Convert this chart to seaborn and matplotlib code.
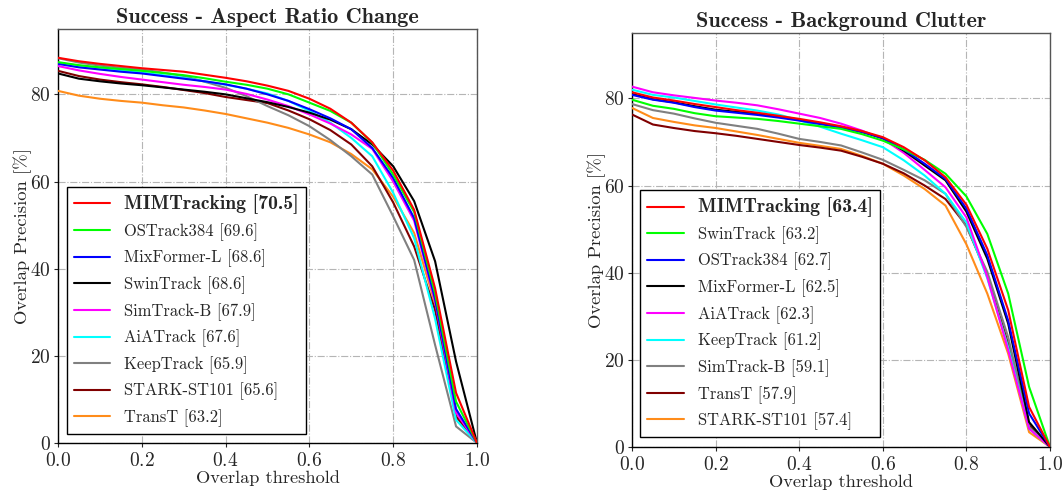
import numpy as np
import pandas as pd
import matplotlib
matplotlib.use("Agg")
import matplotlib.pyplot as plt
import seaborn as sns

# Overlap thresholds (21 evaluation points)
thresholds = [round(0.05 * i, 2) for i in range(21)]

# ---- Aspect Ratio Change ----
arc_names = ["MIMTracking [70.5]", "OSTrack384 [69.6]", "MixFormer-L [68.6]", "SwinTrack [68.6]",
             "SimTrack-B [67.9]", "AiATrack [67.6]", "KeepTrack [65.9]", "STARK-ST101 [65.6]",
             "TransT [63.2]"]
arc_colors = ["#ff0000", "#00ff00", "#0000ff", "#000000", "#ff00ff", "#00ffff", "#808080",
              "#800000", "#ff8c1a"]
arc_mimtracking = [88.4, 87.6, 87.0, 86.5, 86.0, 85.6, 85.2, 84.5, 83.8, 83.0, 82.0, 80.8, 79.0,
                   76.7, 73.5, 69.0, 62.5, 53.5, 35.5, 11.5, 0.0]
arc_ostrack384 = [87.4, 86.7, 86.2, 85.8, 85.4, 84.9, 84.4, 83.7, 82.9, 82.2, 81.3, 80.0, 78.1,
                  76.2, 73.5, 68.9, 61.6, 53.0, 34.3, 9.5, 0.0]
arc_mixformer_l = [87.0, 86.2, 85.7, 85.2, 84.8, 84.2, 83.6, 83.0, 82.3, 81.3, 80.0, 78.5, 76.6,
                   74.5, 72.0, 67.7, 60.8, 51.6, 33.0, 7.8, 0.0]
arc_swintrack = [84.8, 83.6, 83.0, 82.5, 82.1, 81.6, 81.1, 80.6, 80.0, 79.1, 78.2, 77.1, 75.8,
                 74.2, 72.0, 68.5, 63.5, 55.5, 41.7, 18.7, 0.0]
arc_simtrack_b = [86.5, 85.5, 84.7, 84.0, 83.4, 82.8, 82.2, 81.7, 81.1, 80.1, 78.8, 77.3, 75.4,
                  73.3, 70.8, 67.5, 60.0, 51.0, 32.5, 7.0, 0.0]
arc_aiatrack = [87.2, 86.6, 86.0, 85.5, 85.0, 84.4, 83.8, 83.0, 82.2, 81.3, 80.2, 78.5, 76.2,
                73.5, 70.0, 65.8, 57.4, 47.0, 28.5, 5.3, 0.0]
arc_keeptrack = [88.3, 87.3, 86.6, 86.1, 85.7, 85.0, 84.2, 82.9, 81.5, 79.6, 77.3, 75.2, 72.7,
                 69.5, 65.8, 61.6, 52.0, 42.0, 22.5, 3.8, 0.0]
arc_stark_st101 = [85.4, 84.2, 83.4, 82.8, 82.3, 81.7, 81.0, 80.3, 79.4, 78.7, 78.0, 76.3, 74.3,
                   71.8, 68.5, 63.5, 55.2, 45.1, 30.5, 6.1, 0.0]
arc_transt = [80.8, 79.7, 79.0, 78.5, 78.1, 77.5, 77.0, 76.3, 75.5, 74.5, 73.5, 72.3, 70.8,
              69.0, 66.3, 62.8, 56.5, 48.2, 32.0, 6.9, 0.0]
arc_values = [arc_mimtracking, arc_ostrack384, arc_mixformer_l, arc_swintrack, arc_simtrack_b,
              arc_aiatrack, arc_keeptrack, arc_stark_st101, arc_transt]

# ---- Background Clutter ----
bc_names = ["MIMTracking [63.4]", "SwinTrack [63.2]", "OSTrack384 [62.7]", "MixFormer-L [62.5]",
            "AiATrack [62.3]", "KeepTrack [61.2]", "SimTrack-B [59.1]", "TransT [57.9]",
            "STARK-ST101 [57.4]"]
bc_colors = ["#ff0000", "#00ff00", "#0000ff", "#000000", "#ff00ff", "#00ffff", "#808080",
             "#800000", "#ff8c1a"]
bc_mimtracking = [81.4, 80.2, 79.5, 78.7, 78.0, 77.3, 76.7, 76.0, 75.3, 74.5, 73.6, 72.5, 71.1,
                  68.8, 65.8, 61.9, 55.6, 45.5, 31.4, 9.2, 0.0]
bc_swintrack = [79.7, 78.3, 77.6, 76.6, 75.9, 75.6, 75.3, 74.8, 74.2, 73.6, 73.0, 71.8, 70.3,
                68.3, 65.9, 62.7, 57.5, 48.9, 35.2, 13.8, 0.0]
bc_ostrack384 = [80.8, 79.7, 79.0, 78.0, 77.2, 76.7, 76.2, 75.6, 74.9, 74.1, 73.3, 72.3, 70.9,
                 68.3, 65.0, 61.5, 54.7, 44.0, 29.0, 7.7, 0.0]
bc_mixformer_l = [81.0, 79.8, 79.1, 78.2, 77.4, 76.9, 76.5, 75.8, 75.1, 74.3, 73.4, 72.3, 70.9,
                  68.0, 64.6, 61.2, 54.0, 43.2, 28.3, 5.7, 0.0]
bc_aiatrack = [82.7, 81.4, 80.7, 80.1, 79.5, 79.0, 78.4, 77.5, 76.5, 75.5, 74.2, 72.6, 70.7,
               67.5, 63.6, 59.6, 52.7, 39.0, 22.2, 4.2, 0.0]
bc_keeptrack = [82.0, 80.8, 80.2, 79.4, 78.6, 77.9, 77.2, 76.3, 75.0, 73.5, 71.9, 70.4, 68.8,
                65.8, 62.3, 58.1, 51.5, 38.7, 22.9, 4.2, 0.0]
bc_simtrack_b = [78.7, 77.3, 76.5, 75.4, 74.4, 73.7, 73.0, 71.9, 70.7, 70.0, 69.2, 67.6, 65.9,
                 63.6, 61.2, 58.1, 50.5, 40.2, 25.2, 4.6, 0.0]
bc_transt = [76.3, 74.0, 73.2, 72.5, 72.0, 71.4, 70.7, 70.0, 69.3, 68.7, 68.0, 66.6, 65.0,
             62.8, 60.0, 56.9, 50.8, 39.4, 23.7, 5.0, 0.0]
bc_stark_st101 = [77.8, 75.5, 74.6, 73.8, 73.2, 72.4, 71.6, 70.7, 69.8, 69.1, 68.4, 66.8, 65.0,
                  62.3, 59.2, 55.4, 46.5, 35.2, 21.4, 3.4, 0.0]
bc_values = [bc_mimtracking, bc_swintrack, bc_ostrack384, bc_mixformer_l, bc_aiatrack,
             bc_keeptrack, bc_simtrack_b, bc_transt, bc_stark_st101]

x_ticks = [0.0, 0.2, 0.4, 0.6, 0.8, 1.0]
y_ticks = [0, 20, 40, 60, 80]

sns.set_style("white")
plt.rcParams["font.family"] = ["cmr10", "DejaVu Serif"]
plt.rcParams["mathtext.fontset"] = "cm"
plt.rcParams["axes.formatter.use_mathtext"] = True
plt.rcParams["axes.unicode_minus"] = False

fig = plt.figure(figsize=(10.63, 4.90), dpi=100)
ax_left = fig.add_axes([58 / 1063, 47 / 490, 419 / 1063, 414 / 490])
ax_right = fig.add_axes([632 / 1063, 43 / 490, 418 / 1063, 414 / 490])


def draw_panel(ax, title, names, colors, values, legend_anchor):
    frame = pd.DataFrame({
        "threshold": np.tile(thresholds, len(names)),
        "precision": np.concatenate(values),
        "tracker": np.repeat(names, len(thresholds)),
    })
    sns.lineplot(data=frame, x="threshold", y="precision", hue="tracker",
                 hue_order=names, palette=dict(zip(names, colors)),
                 linewidth=1.5, ax=ax, legend=True, errorbar=None)
    # best tracker drawn on top
    n = len(names)
    for i, line in enumerate(ax.lines[:n]):
        line.set_zorder(3 + (n - i) * 0.01)

    ax.set_xlim(0, 1)
    ax.set_ylim(0, 95)
    ax.set_xticks(x_ticks)
    ax.set_yticks(y_ticks)
    ax.grid(True, linestyle="-.", color="#b5b5b5", linewidth=0.8)
    ax.set_axisbelow(True)
    ax.tick_params(axis="both", labelsize=14, length=3, width=0.8, direction="out",
                   bottom=True, left=True)
    ax.tick_params(axis="x", pad=3.5)
    ax.tick_params(axis="y", pad=2)
    ax.set_xlabel("Overlap threshold", fontsize=13.2, labelpad=0)
    ax.set_ylabel("Overlap Precision [%]", fontsize=13.4, labelpad=-1.5)
    ax.set_title(title, fontsize=16, fontfamily="cmb10", pad=4)
    for side in ["left", "bottom"]:
        ax.spines[side].set_color("black")
        ax.spines[side].set_linewidth(1.0)
    for side in ["top", "right"]:
        ax.spines[side].set_color("#555555")
        ax.spines[side].set_linewidth(1.0)

    handles, labels = ax.get_legend_handles_labels()
    leg = ax.legend(handles, labels, loc="lower left", bbox_to_anchor=legend_anchor,
                    borderaxespad=0, fontsize=11.9, frameon=True, fancybox=False,
                    framealpha=1, edgecolor="black", handlelength=2.2, handletextpad=0.85,
                    labelspacing=0.54, borderpad=0.42)
    leg.get_frame().set_linewidth(1.0)
    for h in leg.legend_handles:
        h.set_linewidth(1.5)
    best = leg.get_texts()[0]
    best.set_fontfamily("cmb10")
    best.set_fontsize(14.2)


draw_panel(ax_left, "Success - Aspect Ratio Change", arc_names, arc_colors, arc_values,
           (0.0215, 0.0217))
draw_panel(ax_right, "Success - Background Clutter", bc_names, bc_colors, bc_values,
           (0.02, 0.024))

fig.savefig("out.png", dpi=100)
